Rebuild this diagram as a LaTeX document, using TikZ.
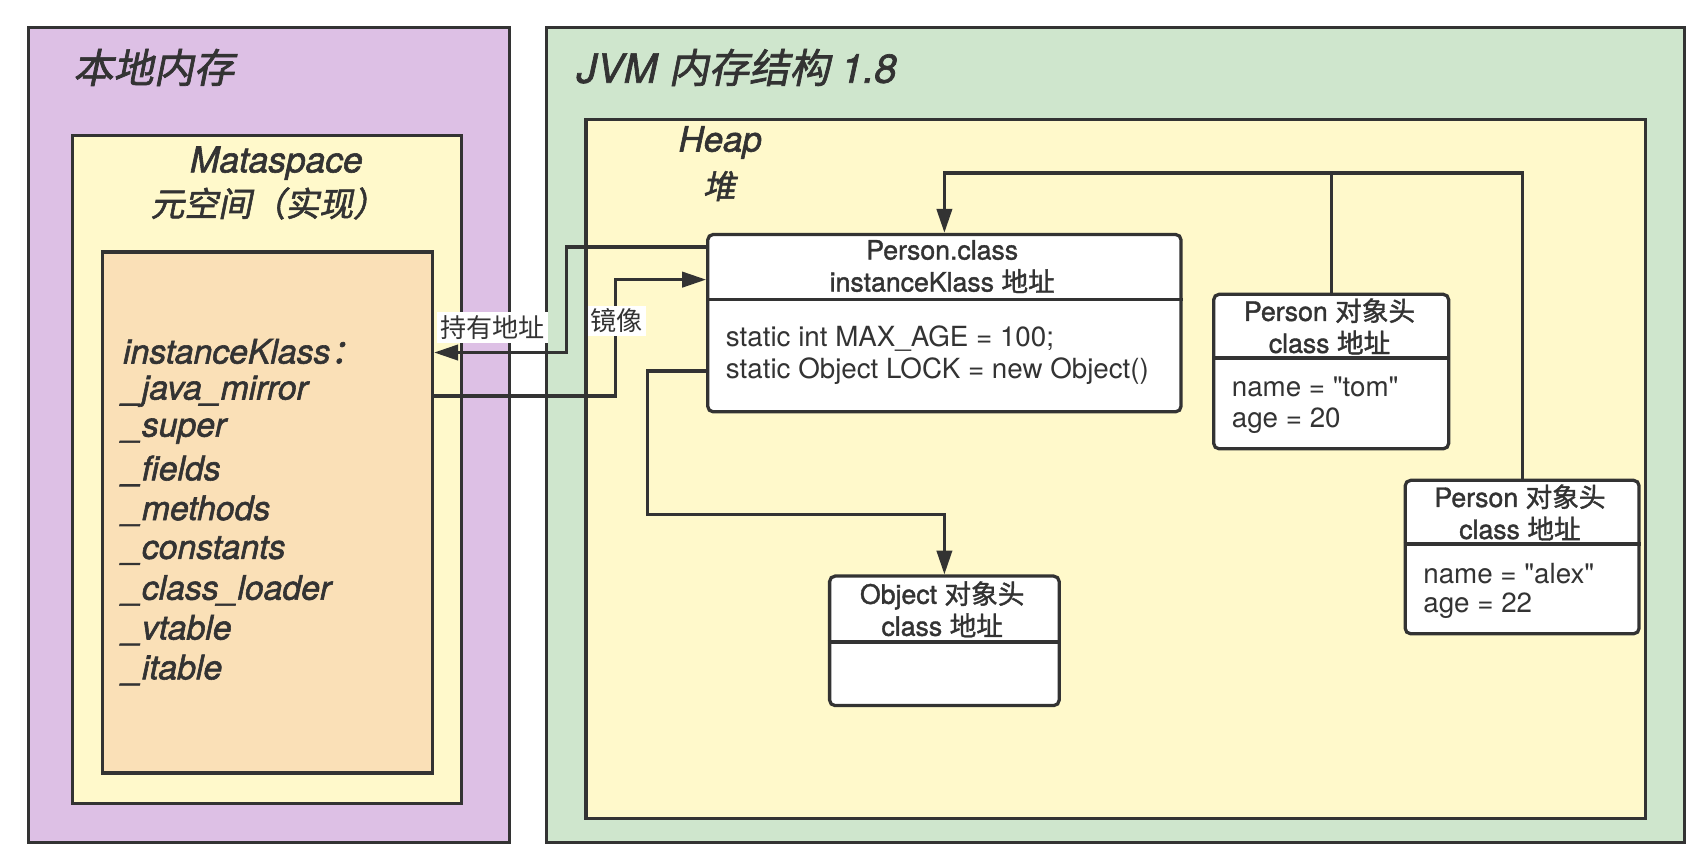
\documentclass[tikz,border=0pt]{standalone}
\usepackage{fontspec}
\usetikzlibrary{arrows.meta}
\setmainfont{TeX Gyre Heros}
\newfontfamily\bodyf{TeX Gyre Heros}[Ligatures=ResetAll]
\newfontfamily\zh{Noto Sans CJK SC}
\newfontfamily\zhmed{Noto Sans CJK SC}[FakeBold=1.4]
\newfontfamily\lamed{TeX Gyre Heros}[FakeBold=1.4]
\newfontfamily\zhitmed{Noto Sans CJK SC}[FakeSlant=0.2,FakeBold=1.7]
\newfontfamily\latitmed{TeX Gyre Heros}[UprightFont=*-Italic,FakeBold=1.7]
\definecolor{linec}{HTML}{333333}
\definecolor{purplef}{HTML}{DDC0E5}
\definecolor{greenf}{HTML}{CFE6CD}
\definecolor{yellowf}{HTML}{FFF9CB}
\definecolor{orangef}{HTML}{FAE0B7}
\newcommand{\fs}[1]{\fontsize{#1pt}{1.2\dimexpr#1pt\relax}\selectfont}
\begin{document}
\begin{tikzpicture}[x=1pt,y=-1pt,
  panel/.style={draw=linec,line width=3pt,inner sep=0pt,anchor=north west},
  umlbox/.style={draw=linec,line width=3pt,fill=white,rounded corners=5pt,inner sep=0pt,anchor=north west},
  wire/.style={draw=linec,line width=3pt},
  arr/.style={wire,-{Triangle[length=22pt,width=14pt]}},
  hdr/.style={text=linec,align=center,inner sep=0pt,font=\fs{24.5}\lamed},
  body/.style={text=linec,align=left,inner sep=0pt,anchor=west,font=\fs{25.5}\bodyf},
  lbl/.style={fill=white,text=linec,inner sep=3pt,font=\fs{24}\zh},
  title/.style={text=linec,inner sep=0pt,anchor=west}
]
\useasboundingbox (0,0) rectangle (1568,792);
\fill[white] (0,0) rectangle (1568,792);

% left: native memory
\node[panel,fill=purplef,minimum width=442pt,minimum height=749pt] (local) at (25,24) {};
\node[title,font=\fs{37}] (localt) at (67,62) {\zhitmed 本地内存};
\node[panel,fill=yellowf,minimum width=358pt,minimum height=614pt] (meta) at (65,123) {};
\node[text=linec,inner sep=0pt] (metat1) at (254,150) {\fs{32.5}\latitmed Mataspace};
\node[text=linec,inner sep=0pt] (metat2) at (247,187) {\fs{31}\zhitmed 元空间（实现）};
\node[panel,fill=orangef,minimum width=303pt,minimum height=479pt] (ik) at (93,230) {};
\foreach \t [count=\i from 0] in {instanceKlass{\zhitmed ：},\_java\_mirror,\_super,\_fields,\_methods,\_constants,\_class\_loader,\_vtable,\_itable}{
  \node[title,font=\fs{31}\latitmed] (ik\i) at (113,323+36.6*\i) {\t};
}

% right: JVM
\node[panel,fill=greenf,minimum width=1046pt,minimum height=749pt] (jvm) at (501,24) {};
\node[title] (jvmt) at (530,62) {\fs{37}\latitmed JVM {\zhitmed 内存结构} 1.8};
\node[panel,fill=yellowf,minimum width=974pt,minimum height=643pt] (heap) at (537,108) {};
\node[text=linec,inner sep=0pt] (heapt1) at (662,131) {\fs{32}\latitmed Heap};
\node[text=linec,inner sep=0pt] (heapt2) at (661,171) {\fs{30}\zhitmed 堆};

% Person.class
\node[umlbox,minimum width=435pt,minimum height=163pt] (pc) at (649,214) {};
\draw[wire] (pc.west |- 0,275) -- (pc.east |- 0,275);
\node[hdr] (pct) at (866,245) {Person.class\\instanceKlass {\zhmed 地址}};
\node[body] (pcb1) at (667,311) {static int MAX\_AGE = 100;};
\node[body] (pcb2) at (667,341) {static Object LOCK = new Object()};

% Person tom
\node[umlbox,minimum width=216pt,minimum height=142pt] (pt) at (1114,269) {};
\draw[wire] (pt.west |- 0,329) -- (pt.east |- 0,329);
\node[hdr] (ptt) at (1222,300) {Person {\zhmed 对象头}\\class {\zhmed 地址}};
\node[body] (ptb1) at (1132,356) {name = "tom"};
\node[body] (ptb2) at (1132,387) {age = 20};

% Person alex
\node[umlbox,minimum width=215pt,minimum height=141pt] (pa) at (1290,440) {};
\draw[wire] (pa.west |- 0,500) -- (pa.east |- 0,500);
\node[hdr] (pat) at (1397,471) {Person {\zhmed 对象头}\\class {\zhmed 地址}};
\node[body] (pab1) at (1308,527) {name = "alex"};
\node[body] (pab2) at (1308,557) {age = 22};

% Object
\node[umlbox,minimum width=211pt,minimum height=119pt] (ob) at (761,528) {};
\draw[wire] (ob.west |- 0,590) -- (ob.east |- 0,590);
\node[hdr] (obt) at (866,560) {Object {\zhmed 对象头}\\class {\zhmed 地址}};

% connectors
\draw[arr] (pt.north) -- (pt.north |- 0,159) -| (pc.north);
\draw[wire] (pa.north) -- (pa.north |- 0,159) -- (pt.north |- 0,159);
\draw[arr] (pc.west |- 0,227) -- (521,227) -- (521,324) -- (ik.east |- 0,324);
\draw[arr] (ik.east |- 0,364) -- (566,364) -- (566,257) -- (pc.west |- 0,257);
\draw[arr] (pc.west |- 0,341) -- (595,341) -- (595,473) -| (ob.north);

\node[lbl] (l1) at (453,301) {持有地址};
\node[lbl] (l2) at (567,295) {镜像};
\end{tikzpicture}
\end{document}
